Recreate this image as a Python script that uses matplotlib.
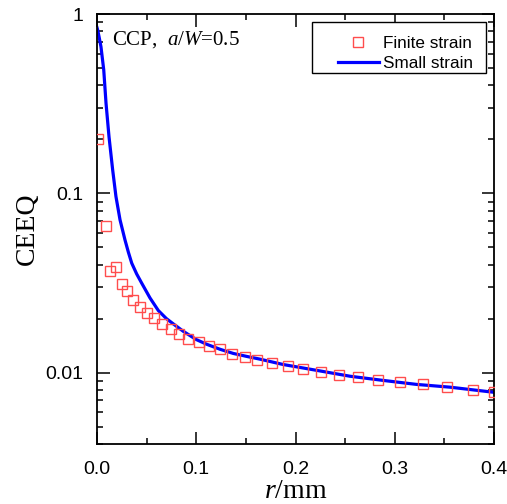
import matplotlib
matplotlib.use('Agg')
import matplotlib.pyplot as plt
from matplotlib.lines import Line2D
from matplotlib.patches import Rectangle
from matplotlib.ticker import LogLocator, MultipleLocator, FixedLocator, FixedFormatter, NullFormatter

plt.rcParams['font.family'] = 'Liberation Sans'
plt.rcParams['mathtext.fontset'] = 'custom'
plt.rcParams['mathtext.rm'] = 'Liberation Serif'
plt.rcParams['mathtext.it'] = 'Liberation Serif:italic'

# finite strain (squares)
r_finite = [0.0015, 0.009, 0.0134, 0.0188, 0.0249, 0.0306, 0.0363, 0.043, 0.050,
            0.0577, 0.0658, 0.0742, 0.083, 0.092, 0.1025, 0.1128, 0.124, 0.1357,
            0.149, 0.161, 0.1766, 0.192, 0.208, 0.2254, 0.2435, 0.2627, 0.2834,
            0.3053, 0.328, 0.3524, 0.3786, 0.400]
ceeq_finite = [0.200, 0.0659, 0.0367, 0.0390, 0.0313, 0.0286, 0.0255, 0.0233, 0.0215,
               0.0202, 0.0187, 0.0175, 0.0164, 0.0155, 0.0148, 0.0141, 0.0135, 0.01276,
               0.0123, 0.0118, 0.01137, 0.01094, 0.0105, 0.01014, 0.00976, 0.00941, 0.00914,
               0.00883, 0.00861, 0.00835, 0.00804, 0.00777]

# small strain (line)
r_small = [0.0, 0.0007, 0.002, 0.004, 0.0068, 0.0091, 0.0121, 0.0158, 0.0191, 0.0232,
           0.0282, 0.0316, 0.035, 0.0400, 0.045, 0.0534, 0.0618, 0.070, 0.0786, 0.087,
           0.100, 0.1105, 0.1240, 0.1373, 0.150, 0.164, 0.1877, 0.2214, 0.255, 0.2885,
           0.322, 0.3557, 0.400]
ceeq_small = [0.84, 0.814, 0.75, 0.657, 0.488, 0.318, 0.207, 0.135, 0.096, 0.0712,
              0.0550, 0.0470, 0.0408, 0.0355, 0.0316, 0.0261, 0.0222, 0.0200, 0.0184, 0.0170,
              0.0153, 0.0144, 0.0135, 0.0128, 0.01235, 0.0119, 0.0111, 0.0103, 0.00955, 0.00905,
              0.0086, 0.0083, 0.00777]

fig = plt.figure(figsize=(5.07, 5.04), dpi=100)
ax = fig.add_axes([0.1913, 0.119, 0.7831, 0.8532])

ax.plot(r_small, ceeq_small, color='#0000ff', lw=2.3, zorder=2)
ax.plot(r_finite, ceeq_finite, ls='none', marker='s', ms=7.8, mfc='none',
        mec='#ff4d4d', mew=1.0, zorder=3)

ax.set_yscale('log')
ax.set_xlim(0, 0.4)
ax.set_ylim(0.004, 1)

ax.xaxis.set_major_locator(FixedLocator([0.0, 0.1, 0.2, 0.3, 0.4]))
ax.xaxis.set_major_formatter(FixedFormatter(['0.0', '0.1', '0.2', '0.3', '0.4']))
ax.xaxis.set_minor_locator(MultipleLocator(0.05))
ax.yaxis.set_major_locator(FixedLocator([0.01, 0.1, 1]))
ax.yaxis.set_major_formatter(FixedFormatter(['0.01', '0.1', '1']))
ax.yaxis.set_minor_locator(LogLocator(base=10, subs=range(2, 10)))
ax.yaxis.set_minor_formatter(NullFormatter())

ax.tick_params(which='both', direction='in', top=True, right=True, width=1.1,
               labelsize=14, colors='black')
ax.tick_params(which='major', length=9)
ax.tick_params(which='minor', length=4.5)
ax.tick_params(axis='x', pad=12)
ax.tick_params(axis='y', pad=10)
for s in ax.spines.values():
    s.set_linewidth(1.3)

ax.set_ylabel('CEEQ', fontsize=20, family='Liberation Serif', labelpad=4)
ax.set_xlabel(r'$r$/mm', fontsize=20, family='Liberation Serif', labelpad=1)

ax.text(0.038, 0.94, r'CCP,  $a$/$W$=0.5', transform=ax.transAxes, fontsize=15,
        family='Liberation Serif', va='center', ha='left')

# legend frame drawn by hand, legend itself without frame
ax.add_patch(Rectangle((0.5416, 0.8628), 0.4382, 0.1186, transform=ax.transAxes,
                       fill=True, facecolor='white', edgecolor='black', lw=1.0, zorder=4))
handles = [Line2D([], [], ls='none', marker='s', ms=7.8, mfc='none', mec='#ff4d4d', mew=1.0),
           Line2D([], [], color='#0000ff', lw=2.3)]
leg = ax.legend(handles, ['Finite strain', 'Small strain'], loc='upper left',
                bbox_to_anchor=(0.607, 0.949), fontsize=12.3, frameon=False,
                handlelength=2.4, handletextpad=0.25, borderpad=0, labelspacing=0.3,
                borderaxespad=0)
leg.set_zorder(5)

fig.savefig('out.png', dpi=100)
